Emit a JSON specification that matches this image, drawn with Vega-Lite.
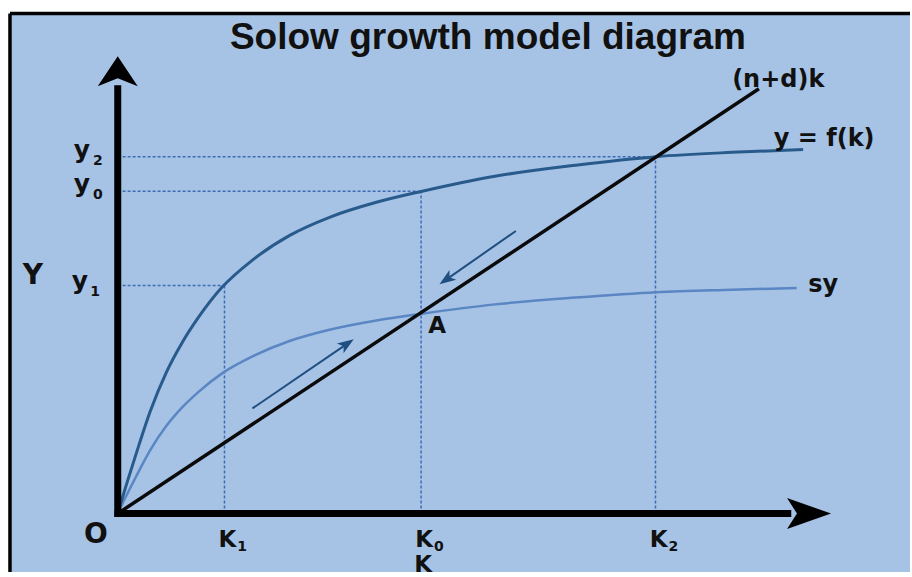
{
  "$schema": "https://vega.github.io/schema/vega-lite/v6.json",
  "width": 912,
  "height": 577,
  "autosize": {"type": "fit", "contains": "padding"},
  "padding": 0,
  "background": "white",
  "config": {"view": {"stroke": null}},
  "datasets": {
    "panel": [{"x": -2.0, "x2": 14.7037, "y": -1.6389, "y2": 14.014}],
    "border": [
      {"x": -2.0, "y": -1.6389, "x2": -2.0, "y2": 14.014},
      {"x": -2.0, "y": 14.014, "x2": 14.7037, "y2": 14.014}
    ],
    "guides": [
      {"x": 0.09, "y": 10.0, "x2": 9.98, "y2": 10.0},
      {"x": 0.09, "y": 9.028, "x2": 5.63, "y2": 9.028},
      {"x": 0.09, "y": 6.389, "x2": 1.981, "y2": 6.389},
      {"x": 1.981, "y": 0, "x2": 1.981, "y2": 6.389},
      {"x": 5.63, "y": 0, "x2": 5.63, "y2": 9.028},
      {"x": 9.98, "y": 0, "x2": 9.98, "y2": 10.0}
    ],
    "fk": [
      {"x": 0, "y": 0}, {"x": 0.1, "y": 0.51}, {"x": 0.2, "y": 1.0}, {"x": 0.4, "y": 1.95},
      {"x": 0.6, "y": 2.85}, {"x": 0.9, "y": 3.95}, {"x": 1.2, "y": 4.8},
      {"x": 1.5, "y": 5.5}, {"x": 1.93, "y": 6.33}, {"x": 2.5, "y": 7.1},
      {"x": 3.2, "y": 7.8}, {"x": 3.93, "y": 8.3}, {"x": 4.8, "y": 8.72},
      {"x": 5.65, "y": 9.03}, {"x": 7.0, "y": 9.45}, {"x": 8.5, "y": 9.76},
      {"x": 10.0, "y": 10.0}, {"x": 11.4, "y": 10.12}, {"x": 12.72, "y": 10.2}
    ],
    "sy": [
      {"x": 0, "y": 0}, {"x": 0.1, "y": 0.32}, {"x": 0.2, "y": 0.62}, {"x": 0.4, "y": 1.21},
      {"x": 0.6, "y": 1.77}, {"x": 0.9, "y": 2.45}, {"x": 1.2, "y": 2.98},
      {"x": 1.5, "y": 3.41}, {"x": 1.93, "y": 3.92}, {"x": 2.5, "y": 4.4},
      {"x": 3.2, "y": 4.84}, {"x": 3.93, "y": 5.15}, {"x": 4.8, "y": 5.41},
      {"x": 5.65, "y": 5.6}, {"x": 7.0, "y": 5.86}, {"x": 8.5, "y": 6.05},
      {"x": 10.0, "y": 6.2}, {"x": 11.4, "y": 6.27}, {"x": 12.6, "y": 6.32}
    ],
    "ndk": [{"x": 0, "y": 0}, {"x": 11.9, "y": 11.9}],
    "axesLines": [
      {"x": 0, "y": -0.1, "x2": 0, "y2": 12.0},
      {"x": -0.06, "y": 0, "x2": 12.5, "y2": 0}
    ],
    "yArrow": [{"x": 0, "y": 12.389}],
    "xArrow": [{"x": 12.83, "y": 0}],
    "flowArrows": [
      {"x": 2.5, "y": 2.944, "x2": 4.241, "y2": 4.739},
      {"x": 7.389, "y": 7.917, "x2": 6.109, "y2": 6.569}
    ],
    "head1": [{"x": 4.241, "y": 4.739}],
    "head2": [{"x": 6.109, "y": 6.569}],
    "title": [{"x": 6.87, "y": 13.333, "label": "Solow growth model diagram"}],
    "bigLabels": [
      {"x": -1.574, "y": 6.667, "label": "Y"},
      {"x": -0.407, "y": -0.61, "label": "O"}
    ],
    "yLabels": [
      {"x": -0.667, "y": 10.194, "label": "y"},
      {"x": -0.667, "y": 9.222, "label": "y"},
      {"x": -0.704, "y": 6.528, "label": "y"}
    ],
    "labels": [
      {"x": 2.037, "y": -0.75, "label": "K"},
      {"x": 5.685, "y": -0.75, "label": "K"},
      {"x": 10.037, "y": -0.75, "label": "K"},
      {"x": 5.667, "y": -1.444, "label": "K"},
      {"x": 5.926, "y": 5.25, "label": "A"}
    ],
    "curveLabels": [
      {"x": 12.259, "y": 12.139, "label": "(n+d)k"},
      {"x": 13.111, "y": 10.5, "label": "y = f(k)"},
      {"x": 13.093, "y": 6.417, "label": "sy"}
    ],
    "subs": [
      {"x": -0.37, "y": 9.889, "label": "2"},
      {"x": -0.37, "y": 8.917, "label": "0"},
      {"x": -0.42, "y": 6.194, "label": "1"},
      {"x": 2.31, "y": -0.944, "label": "1"},
      {"x": 5.96, "y": -0.944, "label": "0"},
      {"x": 10.31, "y": -0.944, "label": "2"}
    ]
  },
  "encoding": {
    "x": {"field": "x", "type": "quantitative", "scale": {"domain": [-2.1852, 14.7037], "nice": false, "zero": false}, "axis": null},
    "y": {"field": "y", "type": "quantitative", "scale": {"domain": [-1.6389, 14.3889], "nice": false, "zero": false}, "axis": null}
  },
  "layer": [
    {"data": {"name": "panel"}, "mark": {"type": "rect", "color": "#a6c3e6"},
     "encoding": {"x2": {"field": "x2"}, "y2": {"field": "y2"}}},
    {"data": {"name": "border"}, "mark": {"type": "rule", "color": "#000000", "strokeWidth": 3.5},
     "encoding": {"x2": {"field": "x2"}, "y2": {"field": "y2"}}},
    {"data": {"name": "guides"}, "mark": {"type": "rule", "color": "#3e6db3", "strokeWidth": 1.5, "strokeDash": [3, 2]},
     "encoding": {"x2": {"field": "x2"}, "y2": {"field": "y2"}}},
    {"data": {"name": "sy"}, "mark": {"type": "line", "color": "#5a86c3", "strokeWidth": 2.5, "interpolate": "monotone"}, "encoding": {}},
    {"data": {"name": "fk"}, "mark": {"type": "line", "color": "#285b8b", "strokeWidth": 3, "interpolate": "monotone"}, "encoding": {}},
    {"data": {"name": "ndk"}, "mark": {"type": "line", "color": "#0a0a0a", "strokeWidth": 3.5}, "encoding": {}},
    {"data": {"name": "flowArrows"}, "mark": {"type": "rule", "color": "#1f4f80", "strokeWidth": 2},
     "encoding": {"x2": {"field": "x2"}, "y2": {"field": "y2"}}},
    {"data": {"name": "head1"}, "mark": {"type": "point", "shape": "M0,-1L0.65,0.8L0,0.35L-0.65,0.8Z", "size": 330, "filled": true, "opacity": 1, "color": "#1f4f80", "angle": 55.9}, "encoding": {}},
    {"data": {"name": "head2"}, "mark": {"type": "point", "shape": "M0,-1L0.65,0.8L0,0.35L-0.65,0.8Z", "size": 330, "filled": true, "opacity": 1, "color": "#1f4f80", "angle": 234.9}, "encoding": {}},
    {"data": {"name": "axesLines"}, "mark": {"type": "rule", "color": "#000000", "strokeWidth": 7},
     "encoding": {"x2": {"field": "x2"}, "y2": {"field": "y2"}}},
    {"data": {"name": "yArrow"}, "mark": {"type": "point", "shape": "M0,-0.75L1,0.75L0,0.35L-1,0.75Z", "size": 1600, "filled": true, "opacity": 1, "color": "#000000"}, "encoding": {}},
    {"data": {"name": "xArrow"}, "mark": {"type": "point", "shape": "M1,0L-1,-0.7L-0.55,0L-1,0.7Z", "size": 1936, "filled": true, "opacity": 1, "color": "#000000"}, "encoding": {}},
    {"data": {"name": "title"}, "mark": {"type": "text", "font": "Liberation Sans", "fontWeight": "bold", "fontSize": 37, "color": "#111111", "align": "center", "baseline": "middle"},
     "encoding": {"text": {"field": "label"}}},
    {"data": {"name": "bigLabels"}, "mark": {"type": "text", "font": "DejaVu Sans", "fontWeight": "bold", "fontSize": 28, "color": "#111111", "align": "center", "baseline": "middle"},
     "encoding": {"text": {"field": "label"}}},
    {"data": {"name": "yLabels"}, "mark": {"type": "text", "font": "DejaVu Sans", "fontWeight": "bold", "fontSize": 25, "color": "#111111", "align": "center", "baseline": "middle"},
     "encoding": {"text": {"field": "label"}}},
    {"data": {"name": "labels"}, "mark": {"type": "text", "font": "DejaVu Sans", "fontWeight": "bold", "fontSize": 23, "color": "#111111", "align": "center", "baseline": "middle"},
     "encoding": {"text": {"field": "label"}}},
    {"data": {"name": "curveLabels"}, "mark": {"type": "text", "font": "DejaVu Sans", "fontWeight": "bold", "fontSize": 24, "color": "#111111", "align": "center", "baseline": "middle"},
     "encoding": {"text": {"field": "label"}}},
    {"data": {"name": "subs"}, "mark": {"type": "text", "font": "DejaVu Sans", "fontWeight": "bold", "fontSize": 14, "color": "#111111", "align": "center", "baseline": "middle"},
     "encoding": {"text": {"field": "label"}}}
  ]
}
